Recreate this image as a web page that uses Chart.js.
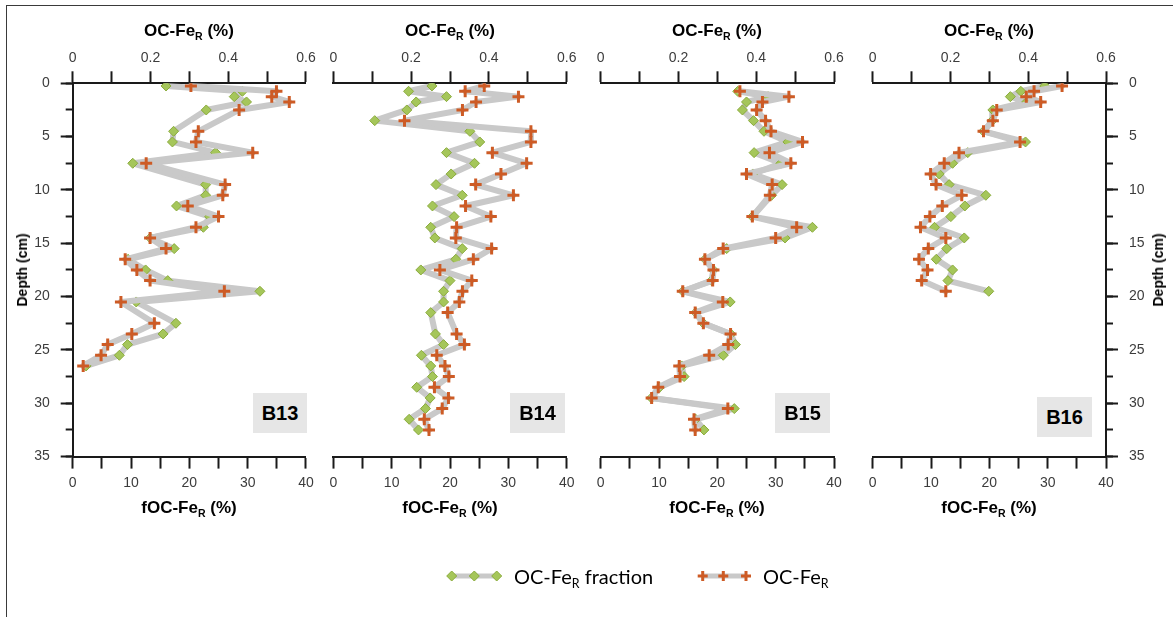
<!DOCTYPE html>
<html><head><meta charset="utf-8">
<script src="https://cdn.jsdelivr.net/npm/chart.js@4.4.1/dist/chart.umd.min.js"></script>
<style>
html,body{margin:0;padding:0;background:#fff;}
body{width:1173px;height:617px;position:relative;overflow:hidden;font-family:"Liberation Sans",Arial,sans-serif;}
canvas{position:absolute;left:0;top:0;}
.fl{position:absolute;background:#3a3a3a;}
.ttl{position:absolute;font-weight:bold;font-size:17px;color:#000;transform:translate(-50%,-50%);white-space:nowrap;z-index:5;}
.ttl sub,.leg sub{font-size:0.62em;vertical-align:baseline;position:relative;top:0.35em;}
.dep{position:absolute;font-weight:bold;font-size:14px;color:#000;white-space:nowrap;transform:translate(-50%,-50%) rotate(-90deg);z-index:5;}
.box{position:absolute;background:#e6e6e6;font-weight:bold;font-size:20px;color:#000;display:flex;align-items:center;justify-content:center;z-index:5;}
.leg{position:absolute;font-family:Lato,"Open Sans",sans-serif;font-size:20px;color:#000;white-space:nowrap;transform:translateY(-50%);z-index:5;}
svg{position:absolute;z-index:5;}
</style>
</head><body>
<div class="fl" style="left:6px;top:5px;width:1px;height:620px;"></div>
<div class="fl" style="left:6px;top:5px;width:1180px;height:1px;"></div>

<canvas id="c1" width="1173" height="617"></canvas>
<canvas id="c2" width="1173" height="617"></canvas>
<canvas id="c3" width="1173" height="617"></canvas>
<canvas id="c4" width="1173" height="617"></canvas>

<div class="ttl" style="left:189px;top:31px;">OC-Fe<sub>R</sub> (%)</div>
<div class="ttl" style="left:450px;top:31px;">OC-Fe<sub>R</sub> (%)</div>
<div class="ttl" style="left:717px;top:31px;">OC-Fe<sub>R</sub> (%)</div>
<div class="ttl" style="left:989px;top:31px;">OC-Fe<sub>R</sub> (%)</div>
<div class="ttl" style="left:189px;top:508px;">fOC-Fe<sub>R</sub> (%)</div>
<div class="ttl" style="left:450px;top:508px;">fOC-Fe<sub>R</sub> (%)</div>
<div class="ttl" style="left:717px;top:508px;">fOC-Fe<sub>R</sub> (%)</div>
<div class="ttl" style="left:989px;top:508px;">fOC-Fe<sub>R</sub> (%)</div>
<div class="dep" style="left:22px;top:270px;">Depth (cm)</div>
<div class="dep" style="left:1158px;top:270px;">Depth (cm)</div>

<div class="box" style="left:253px;top:393px;width:54px;height:40px;">B13</div>
<div class="box" style="left:510px;top:393px;width:55px;height:40px;">B14</div>
<div class="box" style="left:775px;top:393px;width:55px;height:40px;">B15</div>
<div class="box" style="left:1037px;top:397px;width:55px;height:40px;">B16</div>

<svg style="left:440px;top:566px;" width="70" height="20" viewBox="440 566 70 20">
  <line x1="450" y1="576" x2="497" y2="576" stroke="#c9c9c9" stroke-width="5"/>
  <polygon points="446.7,576 451.7,571 456.7,576 451.7,581" fill="#a5c65a" stroke="#8aab3c" stroke-width="1"/>
  <polygon points="469.3,576 474.3,571 479.3,576 474.3,581" fill="#a5c65a" stroke="#8aab3c" stroke-width="1"/>
  <polygon points="491.7,576 496.7,571 501.7,576 496.7,581" fill="#a5c65a" stroke="#8aab3c" stroke-width="1"/>
</svg>
<div class="leg" style="left:514px;top:576px;">OC-Fe<sub>R</sub> fraction</div>
<svg style="left:690px;top:566px;" width="70" height="20" viewBox="690 566 70 20">
  <line x1="702" y1="576" x2="746" y2="576" stroke="#c9c9c9" stroke-width="5"/>
  <path d="M697.7,576h10M702.7,571v10M718.3,576h10M723.3,571v10M741,576h10M746,571v10" stroke="#cd5b25" stroke-width="3"/>
</svg>
<div class="leg" style="left:763px;top:576px;">OC-Fe<sub>R</sub></div>

<script>
// ---------------- data ----------------
const ocTickLabels = [0, 0.2, 0.4, 0.6];
const fracTickLabels = [0, 10, 20, 30, 40];
const depthTickLabels = [0, 5, 10, 15, 20, 25, 30, 35];

const depthB13 = [0.25,0.75,1.25,1.75,2.5,4.5,5.5,6.5,7.5,9.5,10.5,11.5,12.5,13.5,14.5,15.5,16.5,17.5,18.5,19.5,20.5,22.5,23.5,24.5,25.5,26.5];
const ocB13    = [0.304,0.524,0.512,0.557,0.428,0.323,0.317,0.463,0.189,0.392,0.386,0.296,0.375,0.317,0.199,0.240,0.135,0.165,0.199,0.390,0.124,0.210,0.152,0.090,0.073,0.027];
const fracB13  = [16.0,29.1,27.7,29.8,22.9,17.3,17.1,24.5,10.3,22.8,22.8,17.8,23.5,22.4,13.3,17.4,9.5,12.5,16.3,32.1,10.9,17.7,15.5,9.4,8.0,2.3];

const depthB14 = [0.25,0.75,1.25,1.75,2.5,3.5,4.5,5.5,6.5,7.5,8.5,9.5,10.5,11.5,12.5,13.5,14.5,15.5,16.5,17.5,18.5,19.5,20.5,21.5,23.5,24.5,25.5,26.5,27.5,28.5,29.5,30.5,31.5,32.5];
const ocB14    = [0.388,0.339,0.476,0.367,0.332,0.183,0.508,0.508,0.409,0.497,0.431,0.366,0.463,0.340,0.405,0.317,0.315,0.407,0.360,0.274,0.356,0.332,0.324,0.294,0.317,0.337,0.266,0.287,0.297,0.260,0.296,0.280,0.234,0.246];
const fracB14  = [16.9,12.9,19.4,14.2,12.6,7.1,23.4,25.1,19.4,24.2,20.2,17.6,22.1,17.0,20.7,16.7,17.4,22.1,21.0,15.0,20.0,18.9,18.9,16.7,17.5,18.9,15.1,16.7,17.0,14.3,16.6,15.8,13.0,14.6];

const depthB15 = [0.75,1.25,1.75,2.5,3.5,4.5,5.5,6.5,7.5,8.5,9.5,10.5,12.5,13.5,14.5,15.5,16.5,17.5,18.5,19.5,20.5,21.5,22.5,23.5,24.5,25.5,26.5,27.5,28.5,29.5,30.5,31.5,32.5];
const ocB15    = [0.358,0.484,0.416,0.401,0.424,0.438,0.519,0.434,0.489,0.375,0.441,0.435,0.390,0.504,0.450,0.315,0.268,0.290,0.288,0.211,0.314,0.243,0.264,0.334,0.328,0.279,0.202,0.204,0.148,0.131,0.327,0.240,0.243];
const fracB15  = [23.5,28.7,25.0,24.3,26.2,28.0,32.1,26.3,30.9,26.1,31.1,29.3,26.0,36.3,31.6,21.6,17.9,19.3,19.0,14.1,22.2,16.3,17.6,22.3,23.1,21.0,13.9,14.3,10.1,8.7,22.9,16.3,17.7];

const depthB16 = [0.25,0.75,1.25,1.75,2.5,3.5,4.5,5.5,6.5,7.5,8.5,9.5,10.5,11.5,12.5,13.5,14.5,15.5,16.5,17.5,18.5,19.5];
const ocB16    = [0.487,0.415,0.395,0.432,0.319,0.309,0.285,0.379,0.222,0.184,0.149,0.163,0.229,0.179,0.147,0.123,0.188,0.143,0.119,0.141,0.126,0.188];
const fracB16  = [29.5,25.4,23.6,26.4,20.6,20.5,19.0,26.2,16.3,13.7,11.4,13.1,19.4,15.8,13.4,10.6,15.7,12.7,10.9,13.7,12.9,19.9];

// ---------------- styling ----------------
const AX = '#1a1a1a', LBL = '#3c3c3c', LINE = '#c9c9c9';
const GREEN = '#a5c65a', GREEN_B = '#8aab3c', ORANGE = '#cd5b25';
const tickFont = {family:'"Liberation Sans", Arial, sans-serif', size:14};
const near = (a, b) => Math.abs(a - b) < 1e-9;

function xTop(){
  return {type:'linear', position:'top', min:0, max:0.6,
    ticks:{stepSize:0.1, autoSkip:false, maxRotation:0, padding:5, font:tickFont, color:LBL,
      callback:v=>{const r=Math.round(v*10)/10; return ocTickLabels.some(t=>near(t,r)) ? String(r) : '';}},
    grid:{drawOnChartArea:false, drawTicks:true, tickLength:12, tickWidth:2, tickColor:AX},
    border:{display:true, color:AX, width:2},
    afterFit:s=>{s.height=40;}};
}
function xBot(){
  return {type:'linear', position:'bottom', min:0, max:40,
    ticks:{stepSize:5, autoSkip:false, maxRotation:0, padding:6, font:tickFont, color:LBL,
      callback:v=>fracTickLabels.some(t=>near(t,v)) ? String(v) : ''},
    grid:{drawOnChartArea:false, drawTicks:true, tickLength:12, tickWidth:2, tickColor:AX},
    border:{display:true, color:AX, width:2},
    afterFit:s=>{s.height=60;}};
}
function yMinor(pos, show){
  return {type:'linear', position:pos, reverse:true, min:0, max:35, display:show, weight:0,
    ticks:{stepSize:2.5, display:false},
    grid:{drawOnChartArea:false, drawTicks:true, tickLength:7, tickWidth:2, tickColor:AX},
    border:{display:true, color:AX, width:2},
    afterFit:s=>{s.width=0;}};
}
function yMajor(pos){
  return {type:'linear', position:pos, reverse:true, min:0, max:35, weight:1,
    ticks:{stepSize:5, padding:11, font:tickFont, color:LBL,
      callback:v=>depthTickLabels.some(t=>near(t,v)) ? String(v) : ''},
    grid:{drawOnChartArea:false, drawTicks:true, tickLength:12, tickWidth:2, tickColor:AX},
    border:{display:false},
    afterFit:s=>{s.width=60;}};
}

function panel(id, depths, oc, frac, pad, yside){
  const scales = {xTop:xTop(), xBot:xBot(), y:yMinor(yside || 'left', !!yside)};
  if (yside) scales.yMajor = yMajor(yside);
  new Chart(document.getElementById(id), {
    type:'scatter',
    data:{datasets:[
      {label:'OC-FeR fraction', xAxisID:'xBot', yAxisID:'y', order:1,
       data:depths.map((d,i)=>({x:frac[i], y:d})),
       showLine:true, borderColor:LINE, borderWidth:6, borderJoinStyle:'round', borderCapStyle:'round',
       pointStyle:'rectRot', pointRadius:5, pointBackgroundColor:GREEN, pointBorderColor:GREEN_B, pointBorderWidth:1},
      {label:'OC-FeR', xAxisID:'xTop', yAxisID:'y', order:0,
       data:depths.map((d,i)=>({x:oc[i], y:d})),
       showLine:true, borderColor:LINE, borderWidth:6, borderJoinStyle:'round', borderCapStyle:'round',
       pointStyle:'cross', pointRadius:6, pointBorderColor:ORANGE, pointBackgroundColor:ORANGE, pointBorderWidth:3}
    ]},
    options:{responsive:false, animation:false, devicePixelRatio:1,
      layout:{padding:pad},
      plugins:{legend:{display:false}, tooltip:{enabled:false}},
      scales}
  });
}

panel('c1', depthB13, ocB13, fracB13, {left:12.7, right:867, top:43.3, bottom:100.4}, 'left');
panel('c2', depthB14, ocB14, fracB14, {left:333.3, right:606.3, top:43.3, bottom:100.4});
panel('c3', depthB15, ocB15, fracB15, {left:600.7, right:339, top:43.3, bottom:100.4});
panel('c4', depthB16, ocB16, fracB16, {left:872.7, right:7, top:43.3, bottom:100.4}, 'right');
</script>
</body></html>
